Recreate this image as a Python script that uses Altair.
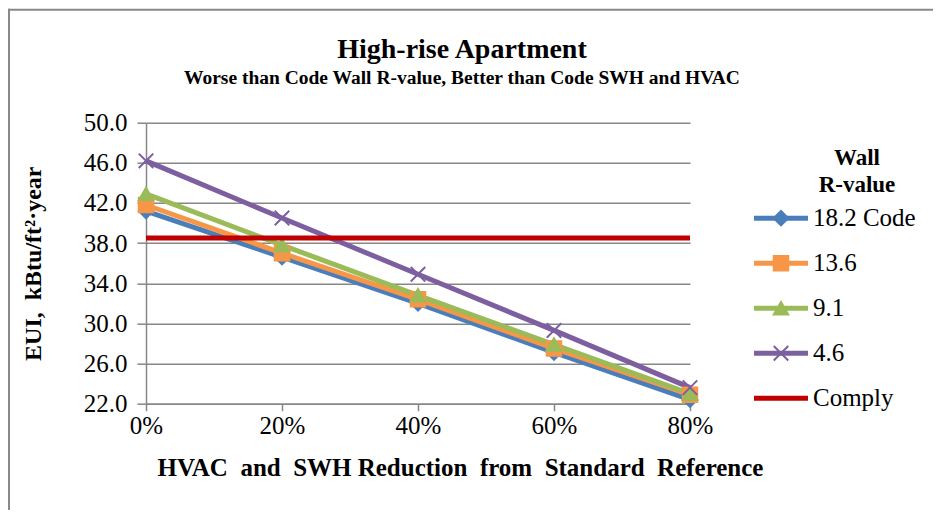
import altair as alt
import pandas as pd

# ---- data ----
reduction = [0, 20, 40, 60, 80]                       # % HVAC & SWH reduction
series_names = ["18.2 Code", "13.6", "9.1", "4.6", "Comply"]
eui_18_2 = [41.2, 36.6, 32.0, 27.1, 22.4]
eui_13_6 = [41.8, 37.0, 32.4, 27.5, 22.9]
eui_9_1 = [42.9, 37.8, 32.8, 27.9, 23.0]
eui_4_6 = [46.2, 40.5, 34.9, 29.3, 23.6]
comply_eui = [38.5, 38.5, 38.5, 38.5, 38.5]
y_ticks = [22, 26, 30, 34, 38, 42, 46, 50]

colors = ["#4A7EBB", "#F79646", "#9BBB59", "#7D5FA0", "#C00000"]
shapes = ["diamond", "square", "triangle-up", "M-1,-1L1,1M-1,1L1,-1"]

title_text = "High-rise Apartment"
subtitle_text = "Worse than Code Wall R-value, Better than Code SWH and HVAC"
x_title = "HVAC\u00a0 and\u00a0 SWH Reduction\u00a0 from\u00a0 Standard\u00a0 Reference"
y_title = "EUI,\u00a0 kBtu/ft\u00b2\u00b7year"
legend_title = ["Wall", "R-value"]

FONT = "Liberation Serif"

rows = []
for name, vals in zip(series_names, [eui_18_2, eui_13_6, eui_9_1, eui_4_6, comply_eui]):
    for r, v in zip(reduction, vals):
        rows.append({"series": name, "reduction": r, "eui": v})
df = pd.DataFrame(rows)

color_scale = alt.Scale(domain=series_names, range=colors)
shape_scale = alt.Scale(domain=series_names[:4], range=shapes)

x_enc = alt.X(
    "reduction:Q",
    scale=alt.Scale(domain=[0, 80], nice=False),
    axis=alt.Axis(
        values=reduction, labelExpr="datum.value + '%'", grid=False,
        tickSize=7, labelPadding=3, labelFlush=False, labelOverlap=False,
        title=x_title, titleFontSize=25, titleX=314, titleY=72,
        titleBaseline="alphabetic", titleAlign="center",
    ),
)
y_enc = alt.Y(
    "eui:Q",
    scale=alt.Scale(domain=[22, 50], nice=False, zero=False),
    axis=alt.Axis(
        values=y_ticks, format=".1f", grid=True, tickSize=9, labelPadding=10,
        labelFlush=False, labelOverlap=False,
        title=y_title, titleFontSize=24, titleX=-106, titleY=140.5,
        titleBaseline="alphabetic", titleAlign="center", titleAngle=-90,
    ),
)

base = alt.Chart(df)

lines = base.transform_filter(alt.datum.series != "Comply").mark_line(strokeWidth=5).encode(
    x=x_enc, y=y_enc,
    color=alt.Color("series:N", scale=color_scale, legend=None),
    detail="series:N",
)
points = base.transform_filter(alt.datum.series != "Comply").mark_point(
    filled=True, opacity=1, size=210, strokeWidth=2
).encode(
    x="reduction:Q", y="eui:Q",
    shape=alt.Shape("series:N", scale=shape_scale, legend=None),
    fill=alt.Fill("series:N", scale=color_scale, legend=None),
    stroke=alt.Stroke("series:N", scale=color_scale, legend=None),
)
comply = base.transform_filter(alt.datum.series == "Comply").mark_line(strokeWidth=5).encode(
    x="reduction:Q", y="eui:Q",
    color=alt.Color("series:N", scale=color_scale, legend=None),
)
main = alt.layer(lines, points, comply)

# ---- legend drawn beside the plot ----
leg_df = pd.DataFrame({"series": series_names})
leg_y = alt.Y(
    "series:N",
    scale=alt.Scale(type="point", domain=series_names, range=[95.5, 275.5], padding=0),
    axis=None,
)
leg_base = alt.Chart(leg_df)
leg_rules = leg_base.mark_rule(strokeWidth=5).encode(
    x=alt.value(608), x2=alt.value(662), y=leg_y,
    color=alt.Color("series:N", scale=color_scale, legend=None),
)
leg_points = leg_base.transform_filter(alt.datum.series != "Comply").mark_point(
    filled=True, opacity=1, size=210, strokeWidth=2
).encode(
    x=alt.value(635), y=leg_y,
    shape=alt.Shape("series:N", scale=shape_scale, legend=None),
    fill=alt.Fill("series:N", scale=color_scale, legend=None),
    stroke=alt.Stroke("series:N", scale=color_scale, legend=None),
)
leg_text = leg_base.mark_text(
    align="left", baseline="middle", font=FONT, fontSize=25, fontWeight="normal", color="black"
).encode(
    x=alt.value(667), y=leg_y, text="series:N",
)
legend = alt.layer(leg_rules, leg_points, leg_text)

lt1 = alt.Chart(pd.DataFrame({"t": [legend_title[0]]})).mark_text(
    align="center", baseline="alphabetic", font=FONT, fontSize=23, fontWeight="bold", color="black"
).encode(x=alt.value(711), y=alt.value(42), text="t:N")
lt2 = alt.Chart(pd.DataFrame({"t": [legend_title[1]]})).mark_text(
    align="center", baseline="alphabetic", font=FONT, fontSize=23, fontWeight="bold", color="black"
).encode(x=alt.value(711), y=alt.value(69), text="t:N")

# ---- chart title and subtitle ----
t1 = alt.Chart(pd.DataFrame({"t": [title_text]})).mark_text(
    align="center", baseline="alphabetic", font=FONT, fontSize=28, fontWeight="bold", color="black"
).encode(x=alt.value(316), y=alt.value(-65), text="t:N")
t2 = alt.Chart(pd.DataFrame({"t": [subtitle_text]})).mark_text(
    align="center", baseline="alphabetic", font=FONT, fontSize=19.5, fontWeight="bold", color="black"
).encode(x=alt.value(316), y=alt.value(-38.5), text="t:N")

# ---- outer chart frame (left and top edges) ----
frame_df = pd.DataFrame({"k": [0]})
frame_left = alt.Chart(frame_df).mark_rule(color="#898989", strokeWidth=2).encode(
    x=alt.value(-137), y=alt.value(-114), y2=alt.value(400)
)
frame_top = alt.Chart(frame_df).mark_rule(color="#898989", strokeWidth=2).encode(
    x=alt.value(-138), x2=alt.value(800), y=alt.value(-113)
)

chart = alt.layer(
    frame_left, frame_top, main, legend, lt1, lt2, t1, t2
).resolve_scale(
    y="independent"
).properties(
    width=544, height=281,
    autosize=alt.AutoSizeParams(type="none"),
    padding={"left": 138, "top": 114.7, "right": 243, "bottom": 106},
).configure_view(
    stroke=None
).configure_text(
    font=FONT, fontWeight="normal"
).configure_axis(
    labelFont=FONT, labelFontSize=25, labelColor="black", labelFontWeight="normal",
    titleFont=FONT, titleFontWeight="bold", titleColor="black",
    domainColor="#878787", domainWidth=1.5,
    tickColor="#878787", tickWidth=1.5,
    gridColor="#878787", gridWidth=1.5,
)

chart.save("out.html", embed_options={"renderer": "svg", "actions": False})
